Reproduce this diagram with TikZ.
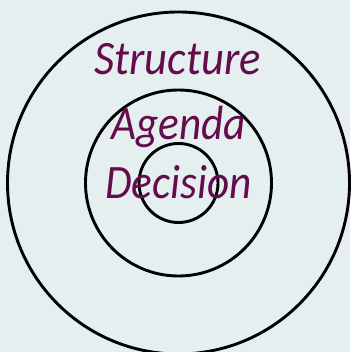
\documentclass[tikz,border=0pt]{standalone}
\usepackage{fontspec}
\setmainfont{Carlito}
\definecolor{bgc}{RGB}{229,239,240}
\definecolor{txt}{RGB}{100,12,76}
\begin{document}
\begin{tikzpicture}[x=1pt,y=-1pt,
  ring/.style={draw=black,line width=2.9pt},
  lbl/.style={text=txt,font=\fontsize{48}{48}\selectfont\itshape,anchor=base,inner sep=0pt}]
\fill[bgc] (0,0) rectangle (350,352);
\useasboundingbox (0,0) rectangle (350,352);
\coordinate (c) at (178.5,183);
\node[ring,circle,minimum size=342pt,inner sep=0pt] (outer) at (c) {};
\node[ring,circle,minimum size=186pt,inner sep=0pt] (middle) at (c) {};
\node[ring,circle,minimum size=79pt,inner sep=0pt] (inner) at (c) {};
\node[lbl] (s) at (177.5,75) {\scalebox{0.93}[1]{Structure}};
\node[lbl] (a) at (178.5,140) {\scalebox{0.9}[1]{Agenda}};
\node[lbl] (d) at (178.5,198) {\scalebox{0.9}[1]{Decision}};
\end{tikzpicture}
\end{document}
